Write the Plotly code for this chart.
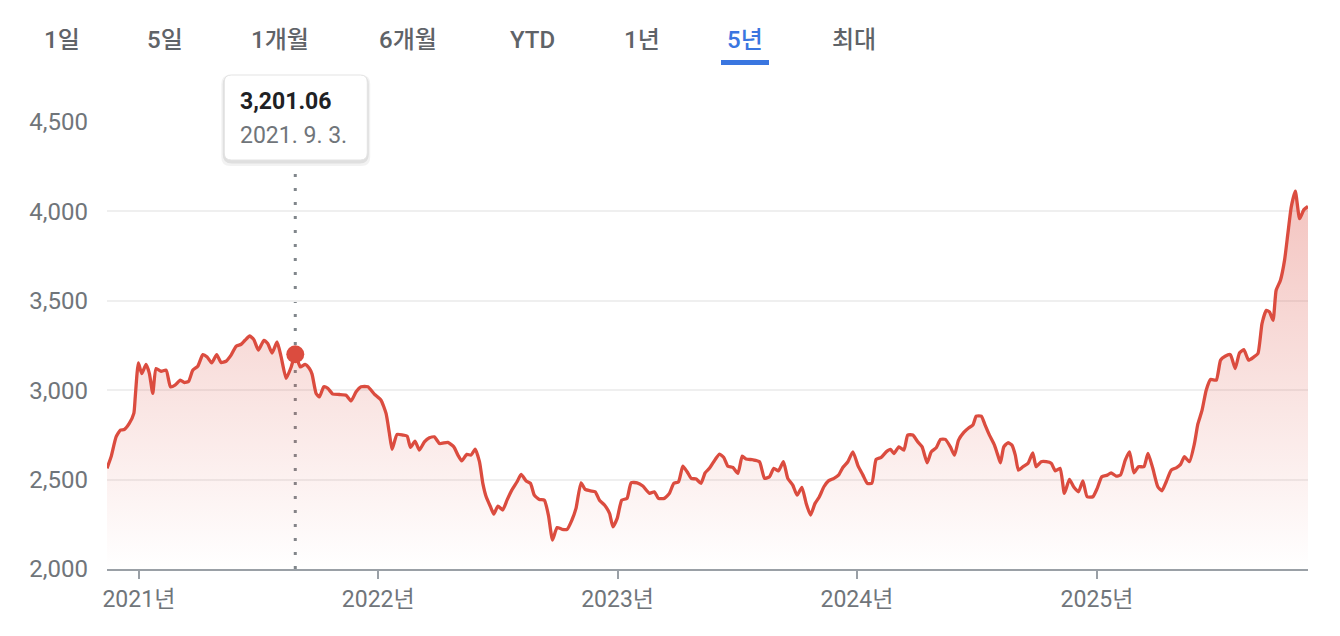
import pandas as pd
import plotly.graph_objects as go

# period tabs on top of the chart
tabs = ["1일", "5일", "1개월", "6개월", "YTD", "1년", "5년", "최대"]
active_tab = "5년"

# decimal years of the traced points
t_years = [
    2020.867, 2020.884, 2020.905, 2020.923, 2020.939, 2020.960, 2020.979, 2020.985, 2020.998,
    2021.012, 2021.030, 2021.044, 2021.058, 2021.072, 2021.093, 2021.114, 2021.132, 2021.151,
    2021.173, 2021.190, 2021.208, 2021.225, 2021.246, 2021.267, 2021.285, 2021.304, 2021.325,
    2021.343, 2021.364, 2021.385, 2021.406, 2021.427, 2021.443, 2021.463, 2021.480, 2021.499,
    2021.522, 2021.538, 2021.556, 2021.577, 2021.594, 2021.615, 2021.636, 2021.653, 2021.674,
    2021.694, 2021.712, 2021.723, 2021.740, 2021.754, 2021.772, 2021.789, 2021.810, 2021.837,
    2021.865, 2021.886, 2021.907, 2021.928, 2021.956, 2021.983, 2022.011, 2022.032, 2022.046,
    2022.057, 2022.078, 2022.102, 2022.120, 2022.134, 2022.153, 2022.171, 2022.192, 2022.213,
    2022.234, 2022.255, 2022.290, 2022.315, 2022.332, 2022.348, 2022.369, 2022.387, 2022.404,
    2022.422, 2022.436, 2022.450, 2022.468, 2022.482, 2022.499, 2022.519, 2022.537, 2022.557,
    2022.579, 2022.596, 2022.617, 2022.635, 2022.651, 2022.672, 2022.693, 2022.710, 2022.727,
    2022.746, 2022.767, 2022.788, 2022.808, 2022.825, 2022.846, 2022.863, 2022.885, 2022.905,
    2022.923, 2022.944, 2022.965, 2022.979, 2022.997, 2023.016, 2023.038, 2023.055, 2023.080,
    2023.104, 2023.132, 2023.152, 2023.169, 2023.194, 2023.215, 2023.233, 2023.253, 2023.271,
    2023.289, 2023.306, 2023.327, 2023.347, 2023.364, 2023.382, 2023.400, 2023.424, 2023.442,
    2023.459, 2023.480, 2023.501, 2023.519, 2023.535, 2023.563, 2023.591, 2023.612, 2023.633,
    2023.651, 2023.670, 2023.691, 2023.709, 2023.730, 2023.748, 2023.768, 2023.786, 2023.804,
    2023.823, 2023.841, 2023.860, 2023.879, 2023.902, 2023.921, 2023.939, 2023.960, 2023.981,
    2024.003, 2024.023, 2024.041, 2024.060, 2024.078, 2024.099, 2024.120, 2024.138, 2024.152,
    2024.173, 2024.194, 2024.210, 2024.231, 2024.252, 2024.270, 2024.291, 2024.308, 2024.329,
    2024.347, 2024.367, 2024.388, 2024.405, 2024.422, 2024.444, 2024.464, 2024.482, 2024.496,
    2024.517, 2024.533, 2024.551, 2024.572, 2024.586, 2024.597, 2024.611, 2024.628, 2024.645,
    2024.659, 2024.672, 2024.691, 2024.712, 2024.732, 2024.746, 2024.767, 2024.788, 2024.809,
    2024.826, 2024.846, 2024.864, 2024.885, 2024.904, 2024.923, 2024.941, 2024.959, 2024.983,
    2025.001, 2025.020, 2025.043, 2025.059, 2025.080, 2025.098, 2025.118, 2025.136, 2025.154,
    2025.173, 2025.196, 2025.213, 2025.233, 2025.254, 2025.271, 2025.289, 2025.310, 2025.331,
    2025.349, 2025.365, 2025.386, 2025.407, 2025.421, 2025.438, 2025.456, 2025.474, 2025.498,
    2025.516, 2025.535, 2025.557, 2025.577, 2025.595, 2025.613, 2025.633, 2025.655, 2025.672,
    2025.689, 2025.707, 2025.720, 2025.735, 2025.748, 2025.766, 2025.783, 2025.797, 2025.811,
    2025.828, 2025.846, 2025.864, 2025.881,
]

index_values = [
    2563, 2627, 2739, 2777, 2780, 2814, 2870, 2963, 3153,
    3093, 3144, 3093, 2982, 3121, 3106, 3112, 3019, 3028,
    3056, 3043, 3050, 3112, 3134, 3199, 3186, 3153, 3199,
    3155, 3162, 3196, 3246, 3257, 3279, 3303, 3283, 3224,
    3279, 3261, 3208, 3270, 3186, 3066, 3130, 3201.06, 3130,
    3144, 3121, 3090, 2982, 2963, 3019, 3010, 2978, 2976,
    2972, 2940, 2991, 3019, 3019, 2978, 2944, 2870, 2758,
    2669, 2753, 2749, 2743, 2680, 2715, 2665, 2711, 2734,
    2739, 2702, 2708, 2683, 2637, 2605, 2641, 2637, 2671,
    2600, 2479, 2404, 2348, 2307, 2352, 2330, 2385, 2441,
    2488, 2529, 2492, 2479, 2413, 2389, 2385, 2300, 2162,
    2232, 2222, 2222, 2274, 2339, 2482, 2445, 2437, 2432,
    2385, 2358, 2311, 2236, 2283, 2385, 2395, 2482, 2482,
    2464, 2423, 2432, 2395, 2395, 2423, 2479, 2488, 2575,
    2544, 2507, 2503, 2479, 2538, 2563, 2600, 2642, 2624,
    2575, 2568, 2535, 2631, 2615, 2611, 2600, 2507, 2516,
    2563, 2549, 2600, 2507, 2469, 2413, 2457, 2367, 2302,
    2367, 2404, 2460, 2493, 2507, 2525, 2568, 2600, 2655,
    2575, 2525, 2479, 2479, 2613, 2624, 2655, 2669, 2646,
    2683, 2665, 2749, 2749, 2711, 2683, 2594, 2655, 2678,
    2725, 2725, 2683, 2637, 2721, 2764, 2789, 2805, 2855,
    2855, 2805, 2749, 2693, 2637, 2594, 2683, 2706, 2693,
    2637, 2553, 2572, 2591, 2650, 2572, 2600, 2600, 2591,
    2549, 2563, 2423, 2501, 2457, 2432, 2493, 2404, 2404,
    2451, 2516, 2525, 2538, 2520, 2525, 2609, 2655, 2538,
    2572, 2572, 2646, 2563, 2460, 2437, 2488, 2553, 2566,
    2585, 2628, 2600, 2702, 2810, 2884, 3000, 3060, 3056,
    3168, 3190, 3199, 3121, 3208, 3227, 3168, 3186, 3205,
    3373, 3447, 3438, 3391, 3559, 3615, 3726, 3876, 4024,
    4113, 3959, 4010, 4028,
]

y_ticks = [2000, 2500, 3000, 3500, 4000, 4500]
x_tick_years = [2021, 2022, 2023, 2024, 2025]
x_tick_labels = ["2021년", "2022년", "2023년", "2024년", "2025년"]

# highlighted point (tooltip)
hl_index = 43
hl_value_text = "3,201.06"
hl_date_text = "2021. 9. 3."

RED = "#db4c3f"
GRAY_TXT = "#70757a"
TAB_TXT = "#5f6368"
BLUE = "#3a76e0"
FONT = "Roboto, Noto Sans CJK KR, sans-serif"


def year_to_date(t):
    return pd.Timestamp("2021-01-01") + pd.Timedelta(days=(t - 2021) * 365.25)


dates = [year_to_date(t) for t in t_years]
hl_date = dates[hl_index]
hl_value = index_values[hl_index]

fig = go.Figure()

fig.add_trace(go.Scatter(
    x=dates,
    y=index_values,
    mode="lines",
    line=dict(color=RED, width=3.3, shape="spline", smoothing=0.5),
    fill="tozeroy",
    fillgradient=dict(
        type="vertical",
        start=y_ticks[0],
        stop=max(index_values),
        colorscale=[[0, "rgba(219,76,63,0.0)"], [1, "rgba(219,76,63,0.33)"]],
    ),
    hoverinfo="skip",
    showlegend=False,
))

fig.add_trace(go.Scatter(
    x=[hl_date],
    y=[hl_value],
    mode="markers",
    marker=dict(color=RED, size=18),
    hoverinfo="skip",
    showlegend=False,
))

# dotted crosshair
fig.add_shape(
    type="line", xref="x", yref="y",
    x0=hl_date, x1=hl_date, y0=y_ticks[0], y1=4265,
    line=dict(color="#80868b", width=3, dash="3px,11px"),
    layer="below",
)


def rounded_rect(x0, y0, x1, y1, r):
    return (f"M{x0 + r},{y0} L{x1 - r},{y0} Q{x1},{y0} {x1},{y0 + r} "
            f"L{x1},{y1 - r} Q{x1},{y1} {x1 - r},{y1} L{x0 + r},{y1} "
            f"Q{x0},{y1} {x0},{y1 - r} L{x0},{y0 + r} Q{x0},{y0} {x0 + r},{y0} Z")


# tooltip box: pixels relative to the point (x) and to the plot top (y)
box = (-71, -38, 72, 47)
for dy, grow, col in [(-3, 3, "rgba(0,0,0,0.05)"), (-2, 1.5, "rgba(0,0,0,0.08)")]:
    fig.add_shape(
        type="path", xref="x", yref="paper",
        xsizemode="pixel", ysizemode="pixel",
        xanchor=hl_date, yanchor=1,
        path=rounded_rect(box[0] - grow, box[1] - grow + dy, box[2] + grow, box[3] + grow + dy, 9),
        fillcolor=col, line=dict(width=0),
    )

fig.add_shape(
    type="path", xref="x", yref="paper",
    xsizemode="pixel", ysizemode="pixel",
    xanchor=hl_date, yanchor=1,
    path=rounded_rect(*box, 7),
    fillcolor="white", line=dict(color="#e3e3e3", width=1),
)

fig.add_annotation(
    x=hl_date, y=1, xref="x", yref="paper",
    xanchor="left", yanchor="middle", xshift=-57, yshift=21,
    text=f"<b>{hl_value_text}</b>", showarrow=False,
    font=dict(family=FONT, size=23, color="#202124"),
)
fig.add_annotation(
    x=hl_date, y=1, xref="x", yref="paper",
    xanchor="left", yanchor="middle", xshift=-57, yshift=-13,
    text=hl_date_text, showarrow=False,
    font=dict(family=FONT, size=23, color=GRAY_TXT),
)

# period tabs
tab_px = [62, 165, 280, 408, 532, 642, 745, 854]
plot_l, plot_w, plot_b, plot_h = 107, 1201, 569, 447
for name, px in zip(tabs, tab_px):
    fig.add_annotation(
        x=(px - plot_l) / plot_w, y=(plot_b - 40) / plot_h,
        xref="paper", yref="paper", xanchor="center", yanchor="middle",
        text=name, showarrow=False,
        font=dict(family=FONT, size=24, color=BLUE if name == active_tab else TAB_TXT,
                  weight=500),
    )
    if name == active_tab:
        fig.add_shape(
            type="rect", xref="paper", yref="paper",
            x0=(px - 24 - plot_l) / plot_w, x1=(px + 24 - plot_l) / plot_w,
            y0=(plot_b - 65) / plot_h, y1=(plot_b - 60) / plot_h,
            fillcolor=BLUE, line=dict(width=0),
        )

fig.update_layout(
    width=1340, height=636,
    margin=dict(l=plot_l, r=1340 - plot_l - plot_w, t=plot_b - plot_h, b=636 - plot_b),
    paper_bgcolor="white", plot_bgcolor="white",
    font=dict(family=FONT),
    hovermode=False,
    xaxis=dict(
        type="date",
        range=[dates[0], dates[-1]],
        tickvals=[pd.Timestamp(f"{y}-01-01") for y in x_tick_years],
        ticktext=x_tick_labels,
        ticks="outside", ticklen=8, tickwidth=2, tickcolor="#9aa0a6",
        showline=True, linecolor="#9aa0a6", linewidth=2,
        showgrid=False, zeroline=False,
        tickfont=dict(size=23, color=GRAY_TXT),
    ),
    yaxis=dict(
        range=[y_ticks[0], y_ticks[-1]],
        tickvals=y_ticks,
        tickformat=",",
        showgrid=True, gridcolor="#efefef", gridwidth=1.5,
        zeroline=False, showline=False,
        ticks="", ticklabelstandoff=18,
        tickfont=dict(size=24, color=GRAY_TXT),
    ),
)

fig.write_html(
    "out.html",
    config={"displayModeBar": False},
    post_script="document.body.style.margin='0';",
)
